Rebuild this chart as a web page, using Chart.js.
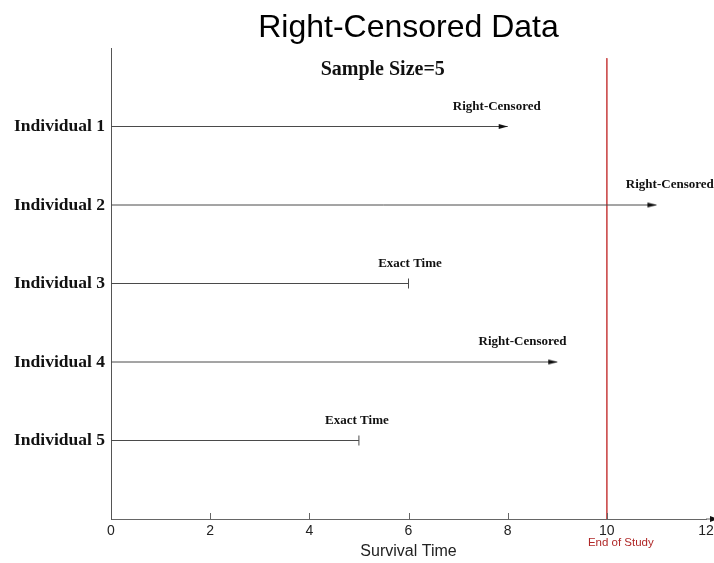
<!DOCTYPE html>
<html>
<head>
<meta charset="utf-8">
<title>Right-Censored Data</title>
<script src="https://cdn.jsdelivr.net/npm/chart.js@4.4.1/dist/chart.umd.min.js"></script>
<style>
  html, body { margin: 0; padding: 0; background: #fff; }
  canvas { display: block; }
</style>
</head>
<body>
<canvas id="censor-chart" width="714" height="563"></canvas>
<script>
// chart data
const individuals = ['Individual 1', 'Individual 2', 'Individual 3', 'Individual 4', 'Individual 5'];
const survivalTimes = [8, 11, 6, 9, 5];
const outcomes = ['Right-Censored', 'Right-Censored', 'Exact Time', 'Right-Censored', 'Exact Time'];
const outcomeLabelAt = [7.78, 11.27, 6.03, 8.3, 4.96];
const xTickValues = [0, 2, 4, 6, 8, 10, 12];
const endOfStudy = 10;
const endOfStudySpan = [0.13, 6];

const SERIF = '"Liberation Serif", "Times New Roman", serif';
const SANS = '"Liberation Sans", Arial, sans-serif';

// arrow head used as point style, tip sits on the image centre
function makeArrow() {
  const c = document.createElement('canvas');
  c.width = 24;
  c.height = 9;
  const g = c.getContext('2d');
  g.fillStyle = '#111';
  g.beginPath();
  g.moveTo(3, 2);
  g.lineTo(12, 4.5);
  g.lineTo(3, 7);
  g.closePath();
  g.fill();
  return c;
}
const arrow = makeArrow();

const datasets = individuals.map(function(name, i) {
  const censored = outcomes[i] === 'Right-Censored';
  return {
    label: name,
    data: [{ x: 0, y: i + 1 }, { x: survivalTimes[i], y: i + 1 }],
    borderColor: '#4a4a4a',
    borderWidth: 1,
    pointStyle: ['circle', censored ? arrow : 'line'],
    pointRadius: [0, 5],
    pointRotation: [0, censored ? 0 : 90],
    pointBorderColor: '#4a4a4a',
    pointBorderWidth: 1,
    pointBackgroundColor: '#111'
  };
});

datasets.push({
  label: 'End of Study',
  data: [{ x: endOfStudy, y: endOfStudySpan[0] }, { x: endOfStudy, y: endOfStudySpan[1] }],
  borderColor: '#cc5050',
  borderWidth: 1,
  pointRadius: 0
});

// extra text and tick marks drawn on top of the chart
const annotations = {
  id: 'annotations',
  afterDraw: function(chart) {
    const ctx = chart.ctx;
    const xs = chart.scales.x;
    const ys = chart.scales.y;
    const axisY = ys.bottom;
    ctx.save();

    // tick marks pointing into the plot
    ctx.strokeStyle = '#666';
    ctx.lineWidth = 1;
    xTickValues.slice(1, -1).forEach(function(v) {
      const px = Math.round(xs.getPixelForValue(v)) + 0.5;
      ctx.beginPath();
      ctx.moveTo(px, axisY);
      ctx.lineTo(px, axisY - 6);
      ctx.stroke();
    });

    // arrow at end of x axis
    const xEnd = xs.right;
    ctx.beginPath();
    ctx.moveTo(xEnd, axisY);
    ctx.lineTo(xEnd + 4, axisY);
    ctx.stroke();
    ctx.fillStyle = '#111';
    ctx.beginPath();
    ctx.moveTo(xEnd + 4, axisY - 3);
    ctx.lineTo(xEnd + 12, axisY);
    ctx.lineTo(xEnd + 4, axisY + 3);
    ctx.closePath();
    ctx.fill();

    // sample size
    ctx.fillStyle = '#111';
    ctx.textAlign = 'center';
    ctx.textBaseline = 'middle';
    ctx.font = 'bold 20px ' + SERIF;
    ctx.fillText('Sample Size=' + individuals.length, xs.getPixelForValue(5.48), 70);

    // outcome labels
    ctx.font = 'bold 13px ' + SERIF;
    outcomes.forEach(function(txt, i) {
      const px = xs.getPixelForValue(outcomeLabelAt[i]);
      const py = ys.getPixelForValue(i + 1) - 20;
      ctx.fillText(txt, px, py);
    });

    // end of study caption
    ctx.fillStyle = '#b02828';
    ctx.font = '11.5px ' + SANS;
    ctx.fillText('End of Study', xs.getPixelForValue(endOfStudy) + 14, axisY + 24);

    ctx.restore();
  }
};

const ctx = document.getElementById('censor-chart').getContext('2d');

new Chart(ctx, {
  type: 'line',
  data: { datasets: datasets },
  plugins: [annotations],
  options: {
    responsive: false,
    animation: false,
    layout: { padding: { left: 0, right: 0, top: 0, bottom: 0 } },
    plugins: {
      legend: { display: false },
      tooltip: { enabled: false },
      title: {
        display: true,
        text: 'Right-Censored Data',
        fullSize: false,
        color: '#000',
        font: { family: SANS, size: 32, weight: 'normal', lineHeight: 1.2 },
        padding: { top: 9, bottom: 0.6 }
      }
    },
    scales: {
      x: {
        type: 'linear',
        min: 0,
        max: 12,
        afterFit: function(scale) {
          scale.height = 44;
          scale.paddingLeft = 0;
          scale.paddingRight = 8;
        },
        grid: { display: false, drawTicks: false },
        border: { display: true, color: '#666', width: 1 },
        ticks: {
          stepSize: 2,
          padding: 4,
          color: '#222',
          font: { family: SANS, size: 14 }
        },
        title: {
          display: true,
          text: 'Survival Time',
          color: '#222',
          font: { family: SANS, size: 16 },
          padding: { top: 0, bottom: 2 }
        }
      },
      y: {
        type: 'linear',
        min: 0,
        max: 6,
        reverse: true,
        afterFit: function(scale) { scale.width = 111; },
        grid: { display: false, drawTicks: false },
        border: { display: true, color: '#555', width: 1 },
        ticks: {
          stepSize: 1,
          padding: 6,
          color: '#111',
          font: { family: SERIF, size: 17.5, weight: 'bold' },
          callback: function(value) {
            return individuals[value - 1] || null;
          }
        }
      }
    }
  }
});
</script>
</body>
</html>
